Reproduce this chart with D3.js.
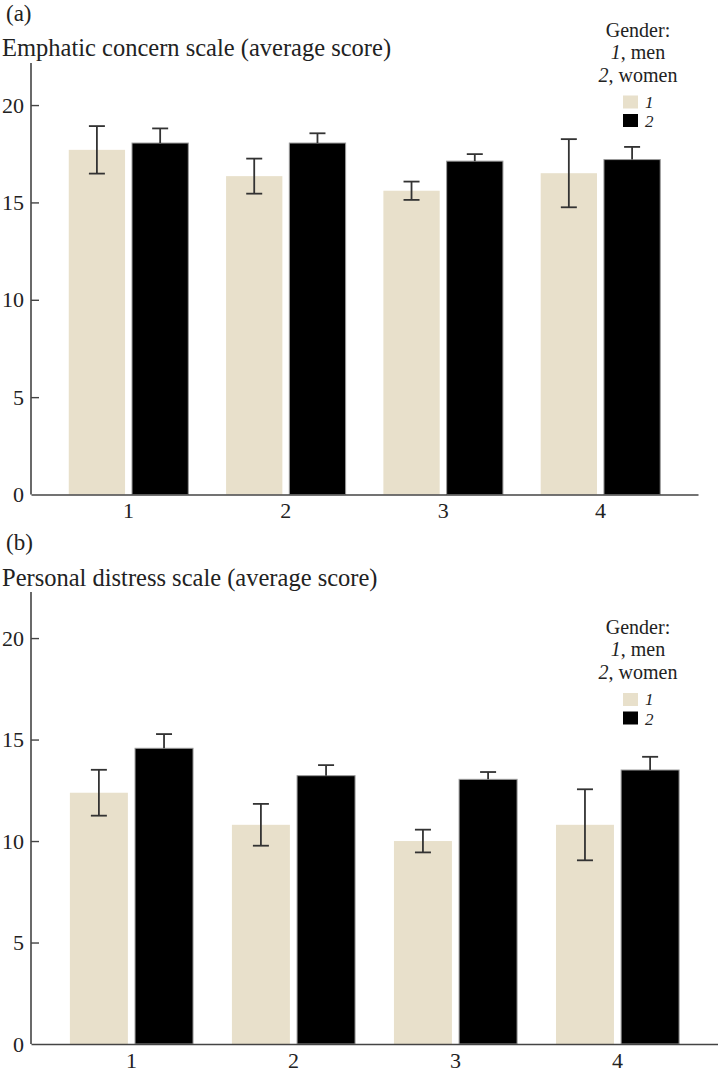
<!DOCTYPE html>
<html>
<head>
<meta charset="utf-8">
<script src="https://cdn.jsdelivr.net/npm/d3@7"></script>
<style>
  body { margin: 0; background: #fff; }
  svg { display: block; font-family: "Liberation Serif", "DejaVu Serif", serif; }
</style>
</head>
<body>
<svg id="chart" width="718" height="1075"></svg>
<script>
// data
const groups = ["1", "2", "3", "4"];
const genders = ["1", "2"];
const yTicks = [0, 5, 10, 15, 20];

const concernMen = [17.7, 16.35, 15.6, 16.5];
const concernMenErr = [1.22, 0.9, 0.47, 1.75];
const concernWomen = [18.05, 18.05, 17.12, 17.2];
const concernWomenErr = [0.75, 0.5, 0.36, 0.65];

const distressMen = [12.38, 10.8, 10.0, 10.8];
const distressMenErr = [1.13, 1.03, 0.56, 1.75];
const distressWomen = [14.57, 13.22, 13.04, 13.5];
const distressWomenErr = [0.7, 0.52, 0.36, 0.65];

const colors = { "1": "#e8e0cb", "2": "#000000" };

const svg = d3.select("#chart");

function drawPanel(opt) {
    const g = svg.append("g");

    // panel letter and title
    g.append("text").attr("x", 6).attr("y", opt.letterY)
        .attr("font-size", 23).attr("fill", "#222").text(opt.letter);
    g.append("text").attr("x", 2).attr("y", opt.titleY)
        .attr("font-size", 24.5).attr("fill", "#222").text(opt.title);

    const x = d3.scaleBand().domain(groups)
        .range(opt.xRange).paddingInner(0).paddingOuter(0.12);
    const half = x.step() * 0.38;
    const xs = d3.scaleBand().domain(genders)
        .range([-half, half]).paddingInner(0.11);
    const y = d3.scaleLinear().domain([0, opt.yMax]).range([opt.bottom, opt.top]);

    const rows = [];
    groups.forEach((grp, i) => {
        rows.push({ grp: grp, sex: "1", v: opt.men[i], e: opt.menErr[i] });
        rows.push({ grp: grp, sex: "2", v: opt.women[i], e: opt.womenErr[i] });
    });
    const bx = d => x(d.grp) + x.bandwidth() / 2 + xs(d.sex);

    // bars
    g.append("g").selectAll("rect")
        .data(rows)
        .join("rect")
        .attr("x", bx)
        .attr("y", d => y(d.v))
        .attr("width", xs.bandwidth())
        .attr("height", d => y(0) - y(d.v))
        .attr("fill", d => colors[d.sex])
        .attr("stroke", d => d.sex === "2" ? "#9a9a9a" : "none")
        .attr("stroke-width", 1);

    // error bars (lower half hidden inside the black bars)
    const err = g.append("g").attr("stroke", "#333").attr("stroke-width", 1.8);
    const cx = d => bx(d) + xs.bandwidth() / 2;
    err.selectAll("line.w")
        .data(rows)
        .join("line")
        .attr("class", "w")
        .attr("x1", cx).attr("x2", cx)
        .attr("y1", d => y(d.v + d.e))
        .attr("y2", d => d.sex === "2" ? y(d.v) : y(d.v - d.e));
    err.selectAll("line.top")
        .data(rows)
        .join("line")
        .attr("class", "top")
        .attr("x1", d => cx(d) - 8).attr("x2", d => cx(d) + 8)
        .attr("y1", d => y(d.v + d.e)).attr("y2", d => y(d.v + d.e));
    err.selectAll("line.bot")
        .data(rows.filter(d => d.sex === "1"))
        .join("line")
        .attr("class", "bot")
        .attr("x1", d => cx(d) - 8).attr("x2", d => cx(d) + 8)
        .attr("y1", d => y(d.v - d.e)).attr("y2", d => y(d.v - d.e));

    // y axis, ticks pointing into the plot
    const yAxis = g.append("g")
        .attr("transform", `translate(${opt.xRange[0]},0)`)
        .call(d3.axisRight(y).tickValues(yTicks).tickSize(8).tickFormat(""));
    yAxis.select(".domain").attr("stroke", "#444").attr("stroke-width", 1.6)
        .attr("d", `M0,${opt.top}V${opt.bottom}`);
    yAxis.selectAll(".tick line").attr("stroke", "#444").attr("stroke-width", 1.4)
        .filter(d => d === 0).remove();
    g.append("g").selectAll("text")
        .data(yTicks)
        .join("text")
        .attr("x", 24)
        .attr("y", d => y(d))
        .attr("dy", "0.35em")
        .attr("text-anchor", "end")
        .attr("font-size", 22)
        .attr("fill", "#222")
        .text(d => d);

    // x axis
    const xAxis = g.append("g")
        .attr("transform", `translate(0,${opt.bottom})`)
        .call(d3.axisBottom(x).tickSize(0).tickPadding(0));
    xAxis.select(".domain").attr("stroke", "#444").attr("stroke-width", 1.6);
    xAxis.selectAll(".tick text")
        .attr("font-family", "Liberation Serif, serif")
        .attr("font-size", 22)
        .attr("fill", "#222")
        .attr("dy", 0)
        .attr("y", 23.5);

    // legend
    const lg = g.append("g");
    const lx = 638;
    const ly = opt.legendY;
    lg.append("text").attr("x", lx).attr("y", ly).attr("text-anchor", "middle")
        .attr("font-size", 20).attr("fill", "#222").text("Gender:");
    const l1 = lg.append("text").attr("x", lx).attr("y", ly + 22).attr("text-anchor", "middle")
        .attr("font-size", 20).attr("fill", "#222");
    l1.append("tspan").attr("font-style", "italic").text("1");
    l1.append("tspan").text(", men");
    const l2 = lg.append("text").attr("x", lx).attr("y", ly + 45).attr("text-anchor", "middle")
        .attr("font-size", 20).attr("fill", "#222");
    l2.append("tspan").attr("font-style", "italic").text("2");
    l2.append("tspan").text(", women");
    genders.forEach((s, i) => {
        lg.append("rect").attr("x", 623).attr("y", ly + 59 + i * 18.5)
            .attr("width", 15).attr("height", 13).attr("fill", colors[s]);
        lg.append("text").attr("x", 645).attr("y", ly + 71 + i * 19.5)
            .attr("font-size", 17).attr("font-style", "italic").attr("fill", "#222").text(s);
    });
}

drawPanel({
    letter: "(a)", letterY: 21,
    title: "Emphatic concern scale (average score)", titleY: 56,
    top: 63, bottom: 494.5, yMax: 22.16, xRange: [31, 698],
    legendY: 36.5,
    men: concernMen, menErr: concernMenErr,
    women: concernWomen, womenErr: concernWomenErr
});

drawPanel({
    letter: "(b)", letterY: 550,
    title: "Personal distress scale (average score)", titleY: 586,
    top: 592, bottom: 1044, yMax: 22.27, xRange: [31, 718],
    legendY: 634,
    men: distressMen, menErr: distressMenErr,
    women: distressWomen, womenErr: distressWomenErr
});
</script>
</body>
</html>
